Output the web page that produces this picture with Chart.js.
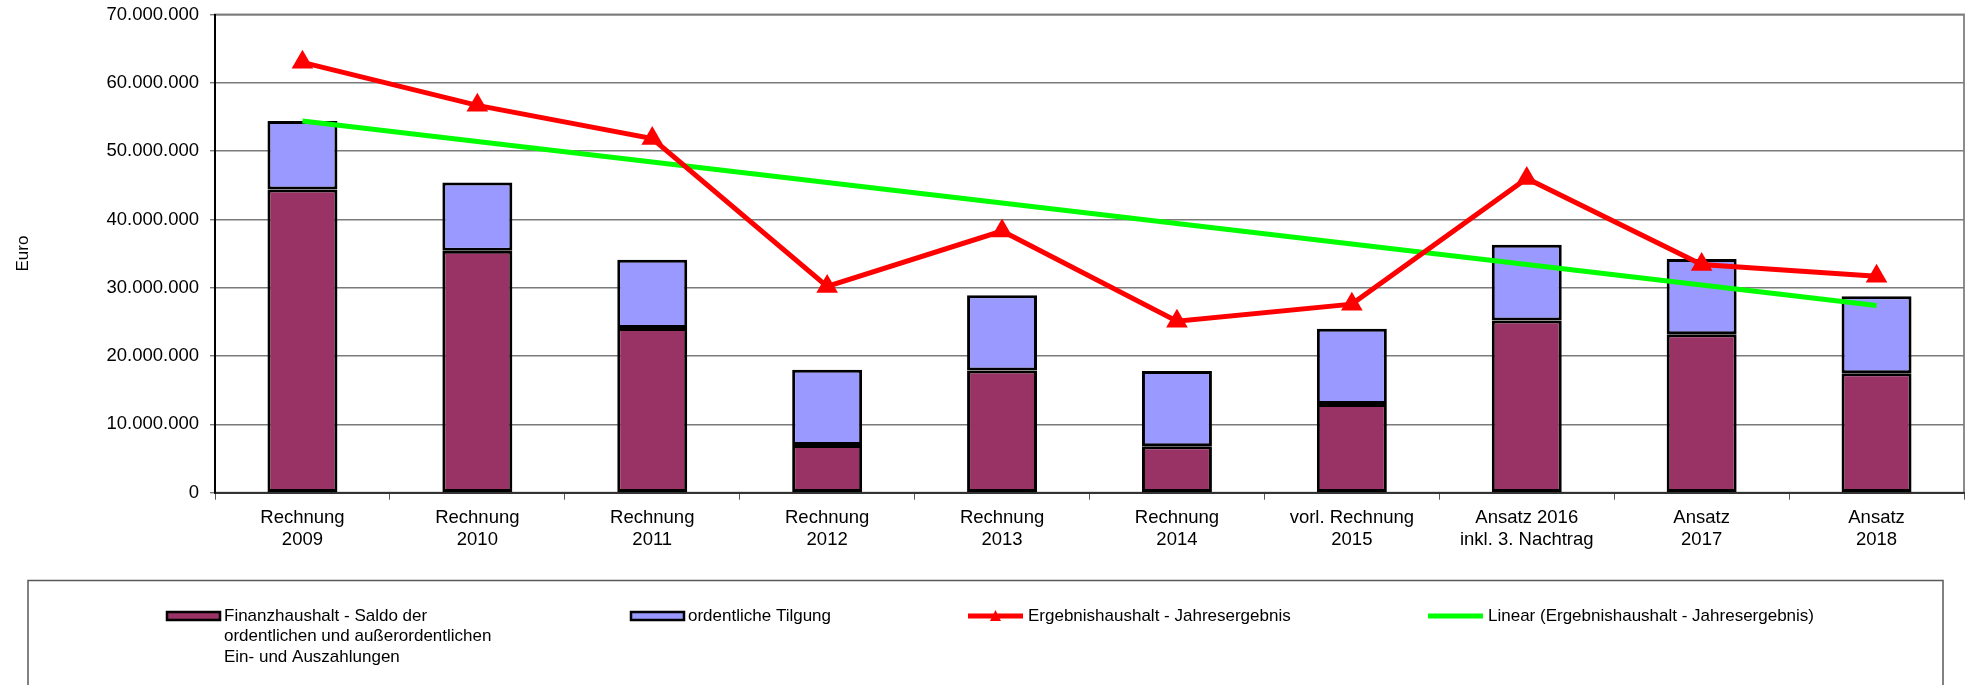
<!DOCTYPE html>
<html>
<head>
<meta charset="utf-8">
<script src="https://cdn.jsdelivr.net/npm/chart.js@4"></script>
<style>
  body { margin: 0; background: #fff; }
  canvas { display: block; }
</style>
</head>
<body>
<canvas id="chart" width="1966" height="685"></canvas>
<script>
// Kategorien
const categories = [
    ['Rechnung', '2009'],
    ['Rechnung', '2010'],
    ['Rechnung', '2011'],
    ['Rechnung', '2012'],
    ['Rechnung', '2013'],
    ['Rechnung', '2014'],
    ['vorl. Rechnung', '2015'],
    ['Ansatz 2016', 'inkl. 3. Nachtrag'],
    ['Ansatz', '2017'],
    ['Ansatz', '2018']
];

// Werte (Euro)
const saldo = [44400000, 35400000, 24100000, 7000000, 17900000, 6800000, 13000000, 25200000, 23200000, 17500000];
const tilgung = [10000000, 10000000, 10000000, 11000000, 11000000, 11000000, 11000000, 11100000, 11000000, 11250000];
const ergebnis = [63000000, 56700000, 51850000, 30200000, 38300000, 25100000, 27600000, 46000000, 33400000, 31700000];
const trend = [54400000, null, null, null, null, null, null, null, null, 27400000];

const yTicks = [0, 10000000, 20000000, 30000000, 40000000, 50000000, 60000000, 70000000];

const legendItems = [
    { lines: ['Finanzhaushalt - Saldo der', 'ordentlichen und außerordentlichen', 'Ein- und Auszahlungen'], type: 'box', color: '#993366', x: 167 },
    { lines: ['ordentliche Tilgung'], type: 'box', color: '#9999FF', x: 631 },
    { lines: ['Ergebnishaushalt - Jahresergebnis'], type: 'tri', color: '#FF0000', x: 968 },
    { lines: ['Linear (Ergebnishaushalt - Jahresergebnis)'], type: 'line', color: '#00FF00', x: 1428 }
];

function fmt(v) {
    return String(v).replace(/\B(?=(\d{3})+(?!\d))/g, '.');
}

const FONT = 'Liberation Sans, Arial, sans-serif';

// Rahmen des Diagrammbereichs
const frame = {
    id: 'frame',
    beforeDraw(chart) {
        const { ctx, chartArea: a } = chart;
        ctx.save();
        ctx.strokeStyle = '#8c8c8c';
        ctx.lineWidth = 2;
        ctx.strokeRect(a.left, a.top, a.right - a.left, a.bottom - a.top);
        ctx.restore();
    }
};

// eigene Legende
const legendBox = {
    id: 'legendBox',
    afterDraw(chart) {
        const ctx = chart.ctx;
        ctx.save();
        ctx.strokeStyle = '#595959';
        ctx.lineWidth = 1.5;
        ctx.strokeRect(28, 580.5, 1915, 130);
        ctx.font = '17px ' + FONT;
        ctx.fillStyle = '#000';
        ctx.textBaseline = 'middle';
        const y0 = 616;
        legendItems.forEach(it => {
            if (it.type === 'box') {
                ctx.fillStyle = it.color;
                ctx.fillRect(it.x, y0 - 4, 53, 8);
                ctx.strokeStyle = '#000';
                ctx.lineWidth = 2.5;
                ctx.strokeRect(it.x, y0 - 4, 53, 8);
            } else {
                ctx.strokeStyle = it.color;
                ctx.lineWidth = 5;
                ctx.beginPath();
                ctx.moveTo(it.x, y0);
                ctx.lineTo(it.x + 55, y0);
                ctx.stroke();
                if (it.type === 'tri') {
                    ctx.fillStyle = it.color;
                    ctx.beginPath();
                    ctx.moveTo(it.x + 27.5, y0 - 6);
                    ctx.lineTo(it.x + 33, y0 + 5);
                    ctx.lineTo(it.x + 22, y0 + 5);
                    ctx.closePath();
                    ctx.fill();
                }
            }
            ctx.fillStyle = '#000';
            const tx = it.x + (it.type === 'box' ? 57 : 60);
            it.lines.forEach((l, i) => ctx.fillText(l, tx, y0 + i * 20.5));
        });
        ctx.restore();
    }
};

new Chart(document.getElementById('chart'), {
    type: 'bar',
    data: {
        labels: categories,
        datasets: [
            {
                type: 'line',
                label: 'Ergebnishaushalt - Jahresergebnis',
                data: ergebnis,
                stack: 'erg',
                order: 0,
                borderColor: '#FF0000',
                backgroundColor: '#FF0000',
                borderWidth: 5,
                pointStyle: 'triangle',
                pointRadius: 12.5,
                pointBorderWidth: 0,
                tension: 0
            },
            {
                type: 'line',
                label: 'Linear (Ergebnishaushalt - Jahresergebnis)',
                data: trend,
                stack: 'trend',
                order: 1,
                spanGaps: true,
                borderColor: '#00FF00',
                borderWidth: 5,
                pointRadius: 0,
                tension: 0
            },
            {
                label: 'Finanzhaushalt - Saldo der ordentlichen und außerordentlichen Ein- und Auszahlungen',
                data: saldo,
                stack: 'bars',
                order: 2,
                backgroundColor: '#993366',
                borderColor: '#000',
                borderWidth: 3,
                borderSkipped: false
            },
            {
                label: 'ordentliche Tilgung',
                data: tilgung,
                stack: 'bars',
                order: 3,
                backgroundColor: '#9999FF',
                borderColor: '#000',
                borderWidth: 3,
                borderSkipped: false
            }
        ]
    },
    options: {
        responsive: false,
        animation: false,
        layout: { autoPadding: false, padding: { top: 14.5, right: 2, left: 0, bottom: 0 } },
        plugins: {
            legend: { display: false },
            tooltip: { enabled: false }
        },
        datasets: {
            bar: { categoryPercentage: 1, barPercentage: 0.4 }
        },
        scales: {
            x: {
                stacked: true,
                afterFit: s => {
                    s.height = 192.3;
                    s.paddingLeft = 0;
                    s.paddingRight = 0;
                },
                grid: {
                    offset: true,
                    drawOnChartArea: false,
                    tickLength: 7,
                    color: '#555'
                },
                border: { color: '#333', width: 2 },
                ticks: {
                    color: '#000',
                    font: { family: FONT, size: 18.5, lineHeight: 1.15 },
                    padding: 8,
                    maxRotation: 0,
                    autoSkip: false
                }
            },
            y: {
                stacked: true,
                min: 0,
                max: 70000000,
                afterFit: s => {
                    s.width = 215;
                    s.paddingTop = 0;
                    s.paddingBottom = 0;
                },
                afterBuildTicks: s => { s.ticks = yTicks.map(v => ({ value: v })); },
                grid: {
                    color: '#7a7a7a',
                    lineWidth: 1.4,
                    tickLength: 5
                },
                border: { color: '#000', width: 2 },
                ticks: {
                    color: '#000',
                    font: { family: FONT, size: 18.5 },
                    padding: 11,
                    callback: v => fmt(v)
                },
                title: {
                    display: true,
                    text: 'Euro',
                    color: '#000',
                    font: { family: FONT, size: 17 },
                    padding: { top: 13, bottom: 0 }
                }
            }
        }
    },
    plugins: [frame, legendBox]
});
</script>
</body>
</html>
